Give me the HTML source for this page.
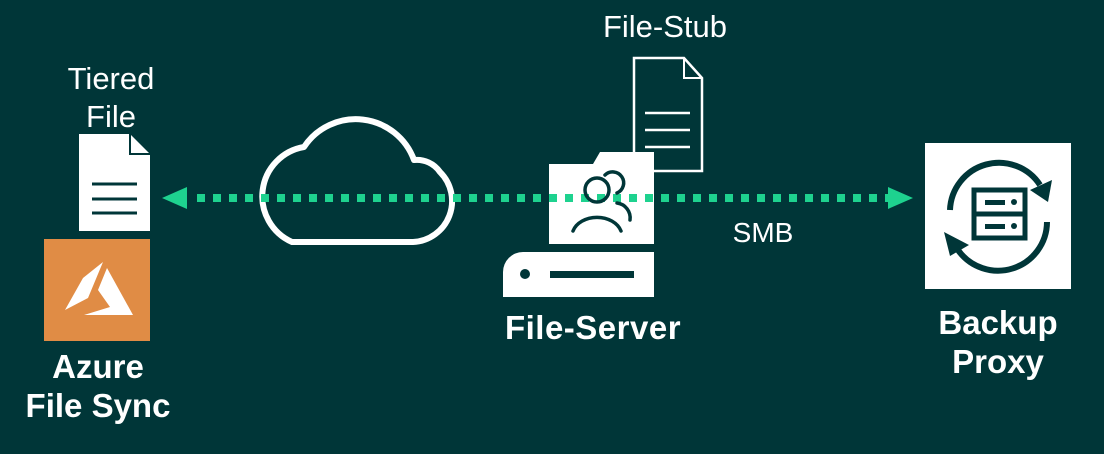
<!DOCTYPE html>
<html><head><meta charset="utf-8"><style>
html,body{margin:0;padding:0;background:#003638;}
svg{display:block}
text{font-family:"Liberation Sans",sans-serif;fill:#fff}
</style></head><body>
<svg width="1104" height="454" viewBox="0 0 1104 454" xmlns="http://www.w3.org/2000/svg">
<rect width="1104" height="454" fill="#003638"/>
<!-- Tiered file -->
<text x="111" y="89" font-size="31" text-anchor="middle">Tiered</text>
<text x="111" y="127" font-size="31" text-anchor="middle">File</text>
<path d="M79,134 H130 L150,154 V231 H79 Z" fill="#fff"/>
<path d="M130,134 V154 H150" fill="none" stroke="#003638" stroke-width="2"/>
<g stroke="#003638" stroke-width="3"><line x1="92" y1="184" x2="137" y2="184"/><line x1="92" y1="199" x2="137" y2="199"/><line x1="92" y1="213" x2="137" y2="213"/></g>
<!-- Azure -->
<rect x="44" y="239" width="106" height="102" fill="#e08c45"/>
<polygon points="65,310 83,278 103,262 88,298" fill="#fff"/>
<polygon points="107,268 133,315 84,315 110,307 98,290" fill="#fff"/>
<text x="98" y="378" font-size="33" font-weight="bold" text-anchor="middle">Azure</text>
<text x="98" y="417" font-size="33" font-weight="bold" text-anchor="middle">File Sync</text>
<!-- cloud -->
<path d="M292,242 A50,50 0 0 1 304,147 A62,62 0 0 1 414,160 A28,28 0 0 1 440,172 A41,41 0 0 1 413,242 Z" fill="none" stroke="#fff" stroke-width="6" stroke-linejoin="round"/>
<!-- dotted line -->
<line x1="197" y1="198" x2="890" y2="198" stroke="#1ed28f" stroke-width="8" stroke-dasharray="8 8"/>
<polygon points="162,198 187,187 187,209" fill="#1ed28f"/>
<polygon points="913,198 888,187 888,209" fill="#1ed28f"/>
<!-- File stub -->
<text x="665" y="37" font-size="31" text-anchor="middle">File-Stub</text>
<path d="M634,58 H684 L702,78 V171 H634 Z" fill="none" stroke="#fff" stroke-width="2.5"/>
<path d="M684,58 V78 H702" fill="none" stroke="#fff" stroke-width="2"/>
<g stroke="#fff" stroke-width="2.5"><line x1="645" y1="113" x2="690" y2="113"/><line x1="645" y1="130" x2="690" y2="130"/><line x1="645" y1="147" x2="690" y2="147"/></g>
<!-- file server folder -->
<path d="M549,164 H593 L600,152 H654 V244 H549 Z" fill="#fff"/>
<line x1="549" y1="198" x2="654" y2="198" stroke="#1ed28f" stroke-width="8" stroke-dasharray="8 8"/>
<g fill="none" stroke="#003638" stroke-width="3.5" stroke-linecap="round">
<path d="M605,175 A11,11 0 1 1 617,193"/>
<circle cx="597" cy="190" r="12"/>
<path d="M573,231 A25,19 0 0 1 621,231"/>
<path d="M617,203 A15,15 0 0 1 630,220"/>
</g>
<!-- server base -->
<path d="M523,252 H654 V297 H503 V272 A20,20 0 0 1 523,252 Z" fill="#fff"/>
<circle cx="525" cy="274" r="5" fill="#003638"/>
<rect x="550" y="271" width="84" height="7" fill="#003638"/>
<text x="593" y="339" font-size="33" font-weight="bold" text-anchor="middle" letter-spacing="0.5">File-Server</text>
<text x="763" y="242" font-size="28" text-anchor="middle">SMB</text>
<!-- backup proxy -->
<rect x="925" y="143" width="146" height="146" fill="#fff"/>
<g fill="none" stroke="#003638" stroke-width="6">
<path d="M950,210 A49,49 0 0 1 1040,185"/>
<path d="M1047,222 A49,49 0 0 1 958,250"/>
<rect x="974" y="190" width="51" height="48" stroke-width="5"/>
<line x1="974" y1="214" x2="1025" y2="214" stroke-width="5"/>
</g>
<polygon points="1030,190 1052,180 1048,202" fill="#003638"/>
<polygon points="944,232 969,245 950,256" fill="#003638"/>
<rect x="985" y="200" width="20" height="5" fill="#003638"/>
<rect x="985" y="224" width="20" height="5" fill="#003638"/>
<circle cx="1014" cy="202" r="3" fill="#003638"/>
<circle cx="1014" cy="226" r="3" fill="#003638"/>
<text x="998" y="334" font-size="33" font-weight="bold" text-anchor="middle">Backup</text>
<text x="998" y="373" font-size="33" font-weight="bold" text-anchor="middle">Proxy</text>
</svg>
</body></html>
